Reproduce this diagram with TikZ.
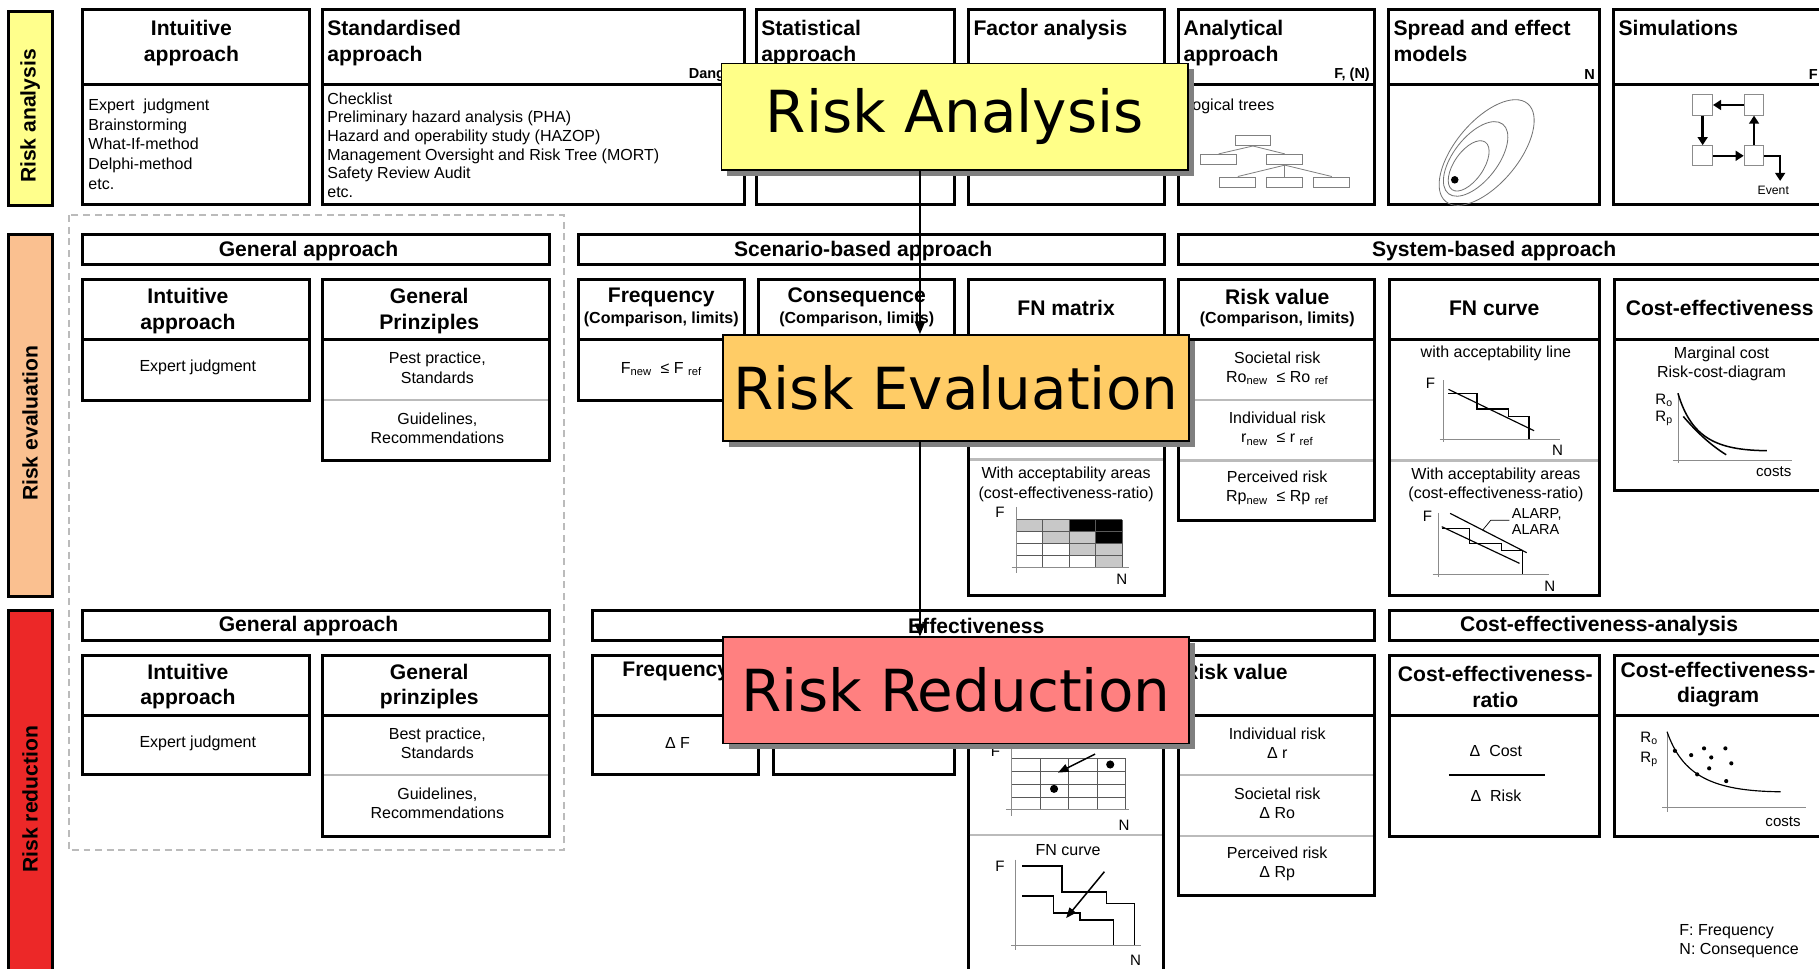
\documentclass[tikz,border=0pt]{standalone}
\usepackage{fontspec}
\setmainfont{Liberation Sans}
\newfontfamily\stagefont{DejaVu Sans}
\usetikzlibrary{arrows.meta,fit,shadows}

\definecolor{barYellow}{HTML}{FFFF8C}
\definecolor{barPeach}{HTML}{FAC090}
\definecolor{barRed}{HTML}{EC2828}
\definecolor{tagYellow}{HTML}{FFFF88}
\definecolor{tagOrange}{HTML}{FFCC66}
\definecolor{tagRed}{HTML}{FF8080}
\definecolor{rulegray}{HTML}{BBBBBB}
\definecolor{cellgray}{HTML}{C8C8C8}

\tikzset{
  frame/.style={draw, line width=2.5pt, inner sep=0pt, outer sep=0pt},
  divider/.style={line width=2.5pt},
  softrule/.style={line width=2pt, rulegray},
  phase/.style={draw, line width=2.5pt, inner sep=0pt},
  phasetext/.style={font=\fontsize{18.2}{20}\selectfont\bfseries, rotate=90, inner sep=0pt},
  head/.style={font=\fontsize{18.2}{22}\selectfont\bfseries, inner sep=0pt, align=center},
  headL/.style={font=\fontsize{18.2}{22}\selectfont\bfseries, inner sep=0pt, align=left, anchor=north west},
  note/.style={font=\fontsize{13.8}{16}\selectfont\bfseries, inner sep=0pt},
  tag/.style={font=\fontsize{12.5}{14}\selectfont\bfseries, inner sep=0pt, anchor=east},
  body/.style={font=\fontsize{13.8}{16.6}\selectfont, inner sep=0pt, align=center},
  list/.style={font=\fontsize{13.8}{16.9}\selectfont, inner sep=0pt, align=left, anchor=west},
  axis/.style={line width=0.6pt, black!45},
  gridline/.style={line width=0.5pt, black!65},
  stair/.style={line width=1.3pt},
  chartlbl/.style={font=\fontsize{13}{15}\selectfont, inner sep=0pt},
  dot/.style={circle, fill, inner sep=0pt, minimum size=#1},
  dot/.default=6pt,
  simbox/.style={draw=black!45, line width=0.8pt, fill=white, inner sep=0pt,
    minimum width=17pt, minimum height=17.5pt},
  simflow/.style={line width=2.2pt, -{Triangle[length=7pt,width=8.5pt]}},
  treebox/.style={draw=black!50, line width=0.7pt, inner sep=0pt,
    minimum width=31pt, minimum height=9pt},
  treeline/.style={draw=black!50, line width=0.7pt},
  contour/.style={draw=black!55, line width=0.7pt},
  stage/.style={draw, line width=1.4pt, inner sep=0pt,
    minimum width=402pt, minimum height=91.5pt,
    font=\stagefont\fontsize{50}{60}\selectfont,
    drop shadow={shadow xshift=5pt, shadow yshift=-5pt, fill=black!50, opacity=1}},
  flow/.style={line width=1.2pt, -{Triangle[length=11pt,width=9pt]}},
}

% box with a header strip: name, x1, y1, x2, y of header rule, y2
\newcommand\panel[6]{%
  \node[frame, fit={(#2,#3) (#4,#6)}] (#1) {};
  \draw[divider] (#2,#5) -- (#4,#5);}
% light rule between two sections of a box: x1, x2, y
\newcommand\softsplit[3]{\draw[softrule] ({#1+1.3},#3) -- ({#2-1.3},#3);}

\begin{document}
\begin{tikzpicture}[x=1pt,y=-1pt]
\useasboundingbox (0,0) rectangle (1568,835);
\clip (0,0) rectangle (1568,835);
\fill[white] (0,0) rectangle (1568,835);

% ---------- phase bars ----------
\node[phase, fill=barYellow, fit={(7,10) (45,177)}] (barA) {};
\node[phasetext] (barAt) at (26,100) {Risk analysis};
\node[phase, fill=barPeach, fit={(7,202) (45,514)}] (barE) {};
\node[phasetext] (barEt) at (26,365) {Risk evaluation};
\node[phase, fill=barRed, fit={(7,526) (45,850)}] (barR) {};
\node[phasetext] (barRt) at (26,689) {Risk reduction};

% general approach group
\draw[line width=1.8pt, rulegray, dash pattern=on 6pt off 4pt] (59.5,185.5) rectangle (486,733);

% ---------- risk analysis row ----------
\panel{aInt}{71.5}{8}{266.5}{72.5}{176.5}
\panel{aStd}{278}{8}{642}{72.5}{176.5}
\panel{aStat}{652}{8}{822.5}{72.5}{176.5}
\panel{aFac}{835}{8}{1004}{72.5}{176.5}
\panel{aAna}{1016}{8}{1185}{72.5}{176.5}
\panel{aSpr}{1197}{8}{1379}{72.5}{176.5}
\panel{aSim}{1391}{8}{1580}{72.5}{176.5}

\node[head] (aIntH) at (165,37) {Intuitive\\approach};
\node[headL] (aStdH) at (282,17.5) {Standardised\\approach};
\node[headL] (aStatH) at (656,17.5) {Statistical\\approach};
\node[headL] (aFacH) at (839,17.5) {Factor analysis};
\node[headL] (aAnaH) at (1020,17.5) {Analytical\\approach};
\node[headL] (aSprH) at (1201,17.5) {Spread and effect\\models};
\node[headL] (aSimH) at (1395,17.5) {Simulations};

\node[tag] (aStdT) at (637,64.5) {Danger};
\node[tag] (aAnaT) at (1181,64.5) {F, (N)};
\node[tag] (aSprT) at (1375,64.5) {N};
\node[tag] (aSimT) at (1567,64.5) {F};

\node[list] (aIntL) at (76,124.3) {Expert~ judgment\\Brainstorming\\What-If-method\\Delphi-method\\etc.};
\node[list, font=\fontsize{13.8}{16}\selectfont] (aStdL) at (282,125)
  {Checklist\\Preliminary hazard analysis (PHA)\\Hazard and operability study (HAZOP)\\Management Oversight and Risk Tree (MORT)\\Safety Review Audit\\etc.};
\node[list] (aAnaL) at (1020,91.4) {Logical trees};

% logical tree
\node[treebox] (tRoot) at (1080,121) {};
\node[treebox] (tL) at (1050.5,137.5) {};
\node[treebox] (tR) at (1107.5,137.5) {};
\node[treebox] (tG1) at (1067,157) {};
\node[treebox] (tG2) at (1107.5,157) {};
\node[treebox] (tG3) at (1148,157) {};
\draw[treeline] (tRoot.south) -- (tL.north);
\draw[treeline] (tRoot.south) -- (tR.north);
\draw[treeline] (tR.south) -- (tG1.north);
\draw[treeline] (tR.south) -- (tG2.north);
\draw[treeline] (tR.south) -- (tG3.north);

% spread contours
\draw[contour, rotate around={50:(1281.5,131.5)}] (1281.5,131.5) ellipse [x radius=55, y radius=27];
\draw[contour, rotate around={52:(1272,137)}] (1272,137) ellipse [x radius=38, y radius=19];
\draw[contour, rotate around={55:(1266,143)}] (1266,143) ellipse [x radius=25, y radius=12.5];
\node[dot=6.5pt] (sprDot) at (1254,155) {};

% simulation loop
\node[simbox] (simTL) at (1467.7,90.5) {};
\node[simbox] (simTR) at (1512,90.5) {};
\node[simbox] (simBL) at (1467.7,134.3) {};
\node[simbox] (simBR) at (1512,134.3) {};
\coordinate (simEnd) at (1534.5,156);
\node[font=\fontsize{10.5}{12}\selectfont, inner sep=0pt] (simEv) at (1528.6,164.5) {Event};
\draw[simflow] (simTR) -- (simTL);
\draw[simflow] (simTL) -- (simBL);
\draw[simflow] (simBL) -- (simBR);
\draw[simflow] (simBR) -- (simTR);
\draw[simflow] (simBR.east) -| (simEnd);

% ---------- risk evaluation row ----------
\node[frame, fit={(71.5,202) (474,228)}] (eGenB) {};
\node[head] (eGenBt) at (266,216) {General approach};
\node[frame, fit={(498.5,202) (1003.5,228)}] (eScnB) {};
\node[head] (eScnBt) at (744,216) {Scenario-based approach};
\node[frame, fit={(1016,202) (1580,228)}] (eSysB) {};
\node[head] (eSysBt) at (1288,216) {System-based approach};

\panel{eInt}{71.5}{241}{267}{292.5}{345}
\panel{eGen}{278}{241}{474}{292.5}{397}
\softsplit{278}{474}{345}
\panel{eFrq}{498.5}{241}{642}{292.5}{345}
\panel{eCon}{654}{241}{823}{292.5}{345}
\panel{eFnm}{835}{241}{1003.5}{292.5}{513.5}
\softsplit{835}{1003.5}{396}
\panel{eRv}{1016}{241}{1185}{292.5}{448.5}
\softsplit{1016}{1185}{345}
\softsplit{1016}{1185}{397}
\panel{eFnc}{1198}{241}{1379}{292.5}{513.5}
\softsplit{1198}{1379}{397}
\panel{eCe}{1391.5}{241}{1580}{292.5}{422.5}

\node[head] (eIntH) at (162,268) {Intuitive\\approach};
\node[head] (eGenH) at (370,268) {General\\Prinziples};
\node[head] (eFrqH) at (570,256.3) {Frequency};
\node[note] (eFrqS) at (570,275.3) {(Comparison, limits)};
\node[head] (eConH) at (738.5,256.3) {Consequence};
\node[note] (eConS) at (738.5,275.3) {(Comparison, limits)};
\node[head] (eFnmH) at (919,265.8) {FN matrix};
\node[head] (eRvH) at (1101,256.3) {Risk value};
\node[note] (eRvS) at (1101,275.3) {(Comparison, limits)};
\node[head] (eFncH) at (1288,265.8) {FN curve};
\node[head] (eCeH) at (1482.4,265.8) {Cost-effectiveness};

\node[body] (eIntB) at (170.5,317) {Expert judgment};
\node[body] (eGenB1) at (377,317) {Pest practice,\\Standards};
\node[body] (eGenB2) at (377,369) {Guidelines,\\Recommendations};
\node[body] (eFrqB) at (570,318) {F\textsubscript{new} ~≤ F \textsubscript{ref}};
\node[body] (eFnmB) at (919,417.5) {With acceptability areas\\(cost-effectiveness-ratio)};
\node[body] (eRv1) at (1101,317.5) {Societal risk\\Ro\textsubscript{new} ~≤ Ro \textsubscript{ref}};
\node[body] (eRv2) at (1101,369.5) {Individual risk\\r\textsubscript{new} ~≤ r \textsubscript{ref}};
\node[body] (eRv3) at (1101,420.5) {Perceived risk\\Rp\textsubscript{new} ~≤ Rp \textsubscript{ref}};
\node[body] (eFnc1) at (1289.5,305) {with acceptability line};
\node[body] (eFnc2) at (1289.5,417.7) {With acceptability areas\\(cost-effectiveness-ratio)};
\node[body] (eCeB) at (1484,313.7) {Marginal cost\\Risk-cost-diagram};

% FN matrix with acceptability areas
\foreach \c/\r/\shade in {1/1/cellgray, 2/1/cellgray, 3/1/black, 4/1/black,
                         2/2/cellgray, 3/2/cellgray, 4/2/black,
                         3/3/cellgray, 4/3/cellgray, 4/4/cellgray}
  \fill[\shade] ({876+(\c-1)*22.75},{448+(\r-1)*10.25}) rectangle ++(22.75,10.25);
\foreach \i in {0,...,4} \draw[gridline] ({876+\i*22.75},448) -- ({876+\i*22.75},489);
\foreach \j in {0,...,3} \draw[gridline] (876,{448+\j*10.25}) -- (967,{448+\j*10.25});
\draw[axis] (876,437) -- (876,494);
\draw[axis] (872,489) -- (973,489);
\node[chartlbl] (eFnmF) at (862,442) {F};
\node[chartlbl] (eFnmN) at (967,499) {N};

% FN curve with acceptability line
\draw[axis] (1244.3,327.6) -- (1244.3,381);
\draw[axis] (1241,378.4) -- (1345,378.4);
\draw[stair] (1248.6,339) -- (1273,339) -- (1273,352.6) -- (1300.3,352.6) -- (1300.3,359.2) -- (1318,359.2) -- (1318,378.4);
\draw[line width=1pt] (1248.6,335.6) -- (1322.4,371.3);
\node[chartlbl] (eFncF1) at (1233,330.5) {F};
\node[chartlbl] (eFncN1) at (1342.7,388.5) {N};

% FN curve with acceptability areas
\draw[axis] (1239.5,442) -- (1239.5,497);
\draw[axis] (1235,495) -- (1335,495);
\draw[stair] (1242.8,455.5) -- (1266.7,455.5) -- (1266.7,468.4) -- (1294.5,468.4) -- (1294.5,474.7) -- (1312.6,474.7) -- (1312.6,495);
\draw[line width=1pt] (1242.8,454) -- (1309.8,485.6);
\draw[line width=1pt] (1250,442.5) -- (1316,476.4);
\draw[line width=0.6pt] (1278,457) -- (1285,448.5) -- (1301,448.5);
\node[list, font=\fontsize{12.5}{13.5}\selectfont] (eAlarp) at (1303,449.5) {ALARP,\\ALARA};
\node[chartlbl] (eFncF2) at (1230.5,445) {F};
\node[chartlbl] (eFncN2) at (1336,505) {N};

% marginal cost diagram
\draw[axis] (1446.4,339) -- (1446.4,399);
\draw[axis] (1442,396.5) -- (1545,396.5);
\draw[line width=1.3pt] (1446.4,339) .. controls (1458,378) and (1480,388) .. (1523,388.5);
\draw[line width=1.3pt] (1451,359) .. controls (1463,373) and (1475,384) .. (1488,392);
\node[chartlbl] (eCeRo) at (1434.5,345) {R\textsubscript{o}};
\node[chartlbl] (eCeRp) at (1434.5,360.5) {R\textsubscript{p}};
\node[chartlbl] (eCeCost) at (1529,406.6) {costs};

% ---------- risk reduction row ----------
\node[frame, fit={(71.5,526) (474,552)}] (rGenB) {};
\node[head] (rGenBt) at (266,540) {General approach};
\node[frame, fit={(511,526) (1185,552)}] (rEffB) {};
\node[head] (rEffBt) at (841.5,540) {Effectiveness};
\node[frame, fit={(1197.6,526) (1580,552)}] (rCeaB) {};
\node[head] (rCeaBt) at (1378.4,540) {Cost-effectiveness-analysis};

\panel{rInt}{71.5}{565}{267}{616.5}{668}
\panel{rGen}{278}{565}{474}{616.5}{721}
\softsplit{278}{474}{668}
\panel{rFrq}{511}{565}{654}{616.5}{668}
\panel{rCon}{666.4}{565}{823}{616.5}{668}
\panel{rFn}{834.5}{565}{1003.3}{616.5}{860}
\softsplit{834.5}{1003.3}{720}
\panel{rRv}{1016}{565}{1185}{616.5}{772}
\softsplit{1016}{1185}{668}
\softsplit{1016}{1185}{720.7}
\panel{rCer}{1197.6}{565}{1378.4}{616.5}{721}
\panel{rCed}{1391.5}{565}{1580}{616.5}{721}

\node[head] (rIntH) at (162,592) {Intuitive\\approach};
\node[head] (rGenH) at (370,592) {General\\prinziples};
\node[head] (rFrqH) at (582.5,579) {Frequency};
\node[head] (rRvH) at (1065,579) {Risk value};
\node[head] (rCerH) at (1289,592) {Cost-effectiveness-\\ratio};
\node[head] (rCedH) at (1481,590) {Cost-effectiveness-\\diagram};

\node[body] (rIntB) at (170.5,640.8) {Expert judgment};
\node[body] (rGenB1) at (377,640.5) {Best practice,\\Standards};
\node[body] (rGenB2) at (377,692.5) {Guidelines,\\Recommendations};
\node[body] (rFrqB) at (584,640.8) {Δ F};
\node[body] (rRv1) at (1101,640.5) {Individual risk\\Δ r};
\node[body] (rRv2) at (1101,692.3) {Societal risk\\Δ Ro};
\node[body] (rRv3) at (1101,744.5) {Perceived risk\\Δ Rp};
\node[body] (rCost) at (1289.5,647.4) {Δ~ Cost};
\node[body] (rRisk) at (1289.5,686) {Δ~ Risk};
\draw[line width=1.2pt] (1249,668) -- (1331.6,668);
\node[body] (rFnc) at (920.7,733) {FN curve};
\node[list] (legend) at (1447.5,811.4) {F: Frequency\\N: Consequence};

% FN matrix with shift
\foreach \i in {0,...,4} \draw[gridline] ({872+\i*24.5},653.6) -- ({872+\i*24.5},698);
\foreach \j in {0,...,3} \draw[gridline] (872,{653.6+\j*11.1}) -- (970,{653.6+\j*11.1});
\draw[axis] (872,645) -- (872,703);
\draw[axis] (867,698) -- (973,698);
\node[dot=7pt] (rDotA) at (957,659) {};
\node[dot=7pt] (rDotB) at (908.6,680) {};
\draw[line width=1.3pt, -{Triangle[length=9pt,width=7pt]}] (944,650) -- (912,666);
\node[chartlbl] (rFnmF) at (858,648) {F};
\node[chartlbl] (rFnmN) at (969,711) {N};

% FN curve with shift
\draw[axis] (875,741) -- (875,819);
\draw[axis] (871.5,814.7) -- (983.6,814.7);
\draw[stair] (881,746.6) -- (915.5,746.6) -- (915.5,768.7) -- (954,768.7) -- (954,778.7) -- (978,778.7) -- (978,814.7);
\draw[stair] (881,772.4) -- (908,772.4) -- (908,786.8) -- (931,786.8) -- (931,793) -- (960,793) -- (960,814.7);
\draw[line width=1.3pt, -{Triangle[length=9pt,width=7pt]}] (952,751.4) -- (919,791.4);
\node[chartlbl] (rFncF) at (862,746.6) {F};
\node[chartlbl] (rFncN) at (978.8,827.6) {N};

% cost-effectiveness diagram
\draw[axis] (1437,630.7) -- (1437,699.7);
\draw[axis] (1433,695.8) -- (1557,695.8);
\draw[line width=1pt] (1437,630.7) .. controls (1450,668) and (1475,682) .. (1535,682.5);
\foreach \px/\py [count=\k] in {1443.8/647.2, 1457.8/650.9, 1468.9/645.1, 1475.1/652.9, 1487.3/645.1,
                                1492.4/658, 1473.3/662.3, 1463/667.5, 1488/673.3}
  \node[dot=3.6pt] (ceDot\k) at (\px,\py) {};
\node[chartlbl] (rCeRo) at (1421.5,636.4) {R\textsubscript{o}};
\node[chartlbl] (rCeRp) at (1421.5,655) {R\textsubscript{p}};
\node[chartlbl] (rCeCost) at (1537,708) {costs};

% ---------- process stages ----------
\node[stage, fill=tagYellow] (ra) at (823,100.6) {Risk Analysis};
\node[stage, fill=tagOrange] (re) at (824,334.4) {Risk Evaluation};
\node[stage, fill=tagRed] (rr) at (824,595.1) {Risk Reduction};
\coordinate (spine) at (793,0);
\draw[flow] (ra.south -| spine) -- (re.north -| spine);
\draw[flow] (re.south -| spine) -- (rr.north -| spine);
\end{tikzpicture}
\end{document}
